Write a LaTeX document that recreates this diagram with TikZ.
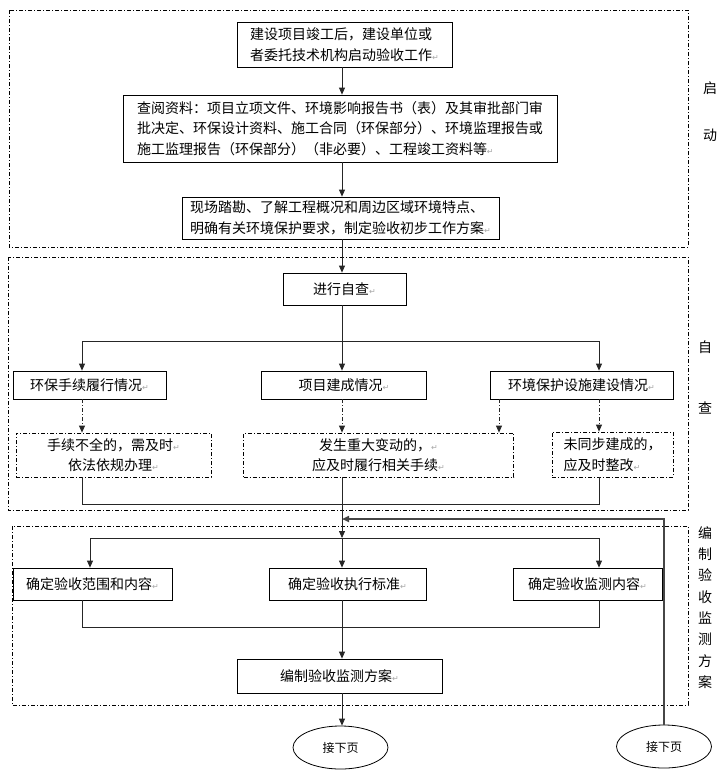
\documentclass[tikz,border=0pt]{standalone}
\usepackage{fontspec}
\setmainfont{Noto Sans CJK SC}
\newfontfamily\symfont{DejaVu Sans}
\usetikzlibrary{arrows.meta,positioning,calc,shapes.geometric}

% paragraph mark as printed in the source
\newcommand{\pmk}{{\symfont\fontsize{8}{8}\selectfont\textcolor{gray!70}{↵}}}

\begin{document}
\begin{tikzpicture}[
      x=1pt, y=-1pt,
      every node/.style={font=\fontsize{14}{20.5}\selectfont, inner sep=0pt},
      box/.style={draw, line width=0.8pt, align=center},
      dashdot/.style={dash pattern=on 4pt off 2pt on 1pt off 2pt},
      dbox/.style={box, dashdot},
      page/.style={ellipse, draw, line width=0.8pt, minimum width=95pt, minimum height=43pt, font=\fontsize{12}{14}\selectfont},
      flow/.style={line width=0.8pt, black!85, -{Triangle[length=7pt,width=6pt]}},
      link/.style={line width=0.8pt, black!85},
      ret/.style={line width=1.6pt, gray!55!black, -{Triangle[length=7pt,width=6pt]}},
      side/.style={align=center, font=\fontsize{14}{21.3}\selectfont}
  ]
  \useasboundingbox (0,0) rectangle (724,777);

  % ===================== 分区框 =====================
  \draw[dashdot, line width=0.6pt] (9,10) rectangle (688,247);
  \draw[dashdot, line width=0.6pt] (8,257) rectangle (688,510);
  \draw[dashdot, line width=0.6pt] (12,526) rectangle (688,705);

  \node[side] (lblqi) at (710,88) {启};
  \node[side] (lbldong) at (710,135) {动};
  \node[side] (lblzi) at (705,347) {自};
  \node[side] (lblcha) at (705,408) {查};
  \node[side] (lblplan) at (705,607.5) {编\\制\\验\\收\\监\\测\\方\\案};

  % ===================== 启动 =====================
  \node[box, align=left, minimum width=215pt, minimum height=45pt] (start) at (344.5,44.5)
      {建设项目竣工后，建设单位或\\者委托技术机构启动验收工作\pmk};
  \node[box, align=left, minimum width=434pt, minimum height=67pt] (docs) at (340,128.5)
      {查阅资料：项目立项文件、环境影响报告书（表）及其审批部门审\\批决定、环保设计资料、施工合同（环保部分）、环境监理报告或\\施工监理报告（环保部分）（非必要）、工程竣工资料等\pmk};
  \node[box, align=left, minimum width=317pt, minimum height=42pt] (site) at (340.5,218)
      {现场踏勘、了解工程概况和周边区域环境特点、\\明确有关环境保护要求，制定验收初步工作方案\pmk};

  % ===================== 自查 =====================
  \node[box, minimum width=123pt, minimum height=32pt] (self) at (344.5,289) {进行自查\pmk};
  \node[box, minimum width=153pt, minimum height=28pt] (proc) at (89.5,385) {环保手续履行情况\pmk};
  \node[box, minimum width=165pt, minimum height=28pt] (build) at (344,385) {项目建成情况\pmk};
  \node[box, minimum width=183pt, minimum height=28pt] (fac) at (581.5,385) {环境保护设施建设情况\pmk};

  \node[dbox, minimum width=195pt, minimum height=44pt] (procfix) at (113.5,455)
      {手续不全的，需及时\pmk\\依法依规办理\pmk};
  \node[dbox, minimum width=270pt, minimum height=44pt] (change) at (378.5,455)
      {发生重大变动的，\pmk\\应及时履行相关手续\pmk};
  \node[dbox, align=left, minimum width=121pt, minimum height=45pt] (facfix) at (612.5,454.5)
      {未同步建成的，\\应及时整改\pmk};

  % ===================== 编制验收监测方案 =====================
  \node[box, minimum width=159pt, minimum height=32pt] (scope) at (92.5,584) {确定验收范围和内容\pmk};
  \node[box, minimum width=157pt, minimum height=32pt] (std) at (347.5,584) {确定验收执行标准\pmk};
  \node[box, minimum width=149pt, minimum height=32pt] (mon) at (587.5,584) {确定验收监测内容\pmk};
  \node[box, minimum width=205pt, minimum height=34pt] (plan) at (339.5,676) {编制验收监测方案\pmk};

  \node[page] (next1) at (340.5,747.5) {接下页};
  \node[page] (next2) at (664,746.5) {接下页};

  % 列与行
  \coordinate (colL) at (82,0);
  \coordinate (colLL) at (90,0);
  \coordinate (colM) at (342,0);
  \coordinate (colRm) at (499,0);
  \coordinate (colR) at (599,0);
  \coordinate (rowA) at (0,341);
  \coordinate (rowB) at (0,504);
  \coordinate (rowE) at (0,519);
  \coordinate (rowC) at (0,538);
  \coordinate (rowD) at (0,627);

  % ===================== 连线 =====================
  \draw[flow] (start.south -| colM) -- (docs.north -| colM);
  \draw[flow] (docs.south -| colM) -- (site.north -| colM);
  \draw[flow] (site.south -| colM) -- (self.north -| colM);
  \draw[flow] (self.south -| colM) -- (build.north -| colM);
  \draw[flow] (rowA -| colM) -| (proc.north -| colL);
  \draw[flow] (rowA -| colM) -| (fac.north -| colR);

  \draw[flow, dashdot] (proc.south -| colL) -- (procfix.north -| colL);
  \draw[flow, dashdot] (build.south -| colM) -- (change.north -| colM);
  \draw[flow, dashdot] (fac.south -| colRm) -- (change.north -| colRm);
  \draw[flow, dashdot] (fac.south -| colR) -- (facfix.north -| colR);

  \draw[link] (procfix.south -| colL) |- (rowB -| colR) -- (facfix.south -| colR);
  \draw[flow] (change.south -| colM) -- (rowC -| colM);

  \draw[flow] (rowC -| colM) -| (scope.north -| colLL);
  \draw[flow] (rowC -| colM) -- (std.north -| colM);
  \draw[flow] (rowC -| colM) -| (mon.north -| colR);

  \draw[link] (scope.south -| colL) |- (rowD -| colR) -- (mon.south -| colR);
  \draw[flow] (std.south -| colM) -- (plan.north -| colM);
  \draw[flow] (plan.south -| colM) -- (next1.north -| colM);

  % 返回
  \draw[ret] (next2.north) |- (rowE -| colM);

\end{tikzpicture}
\end{document}
